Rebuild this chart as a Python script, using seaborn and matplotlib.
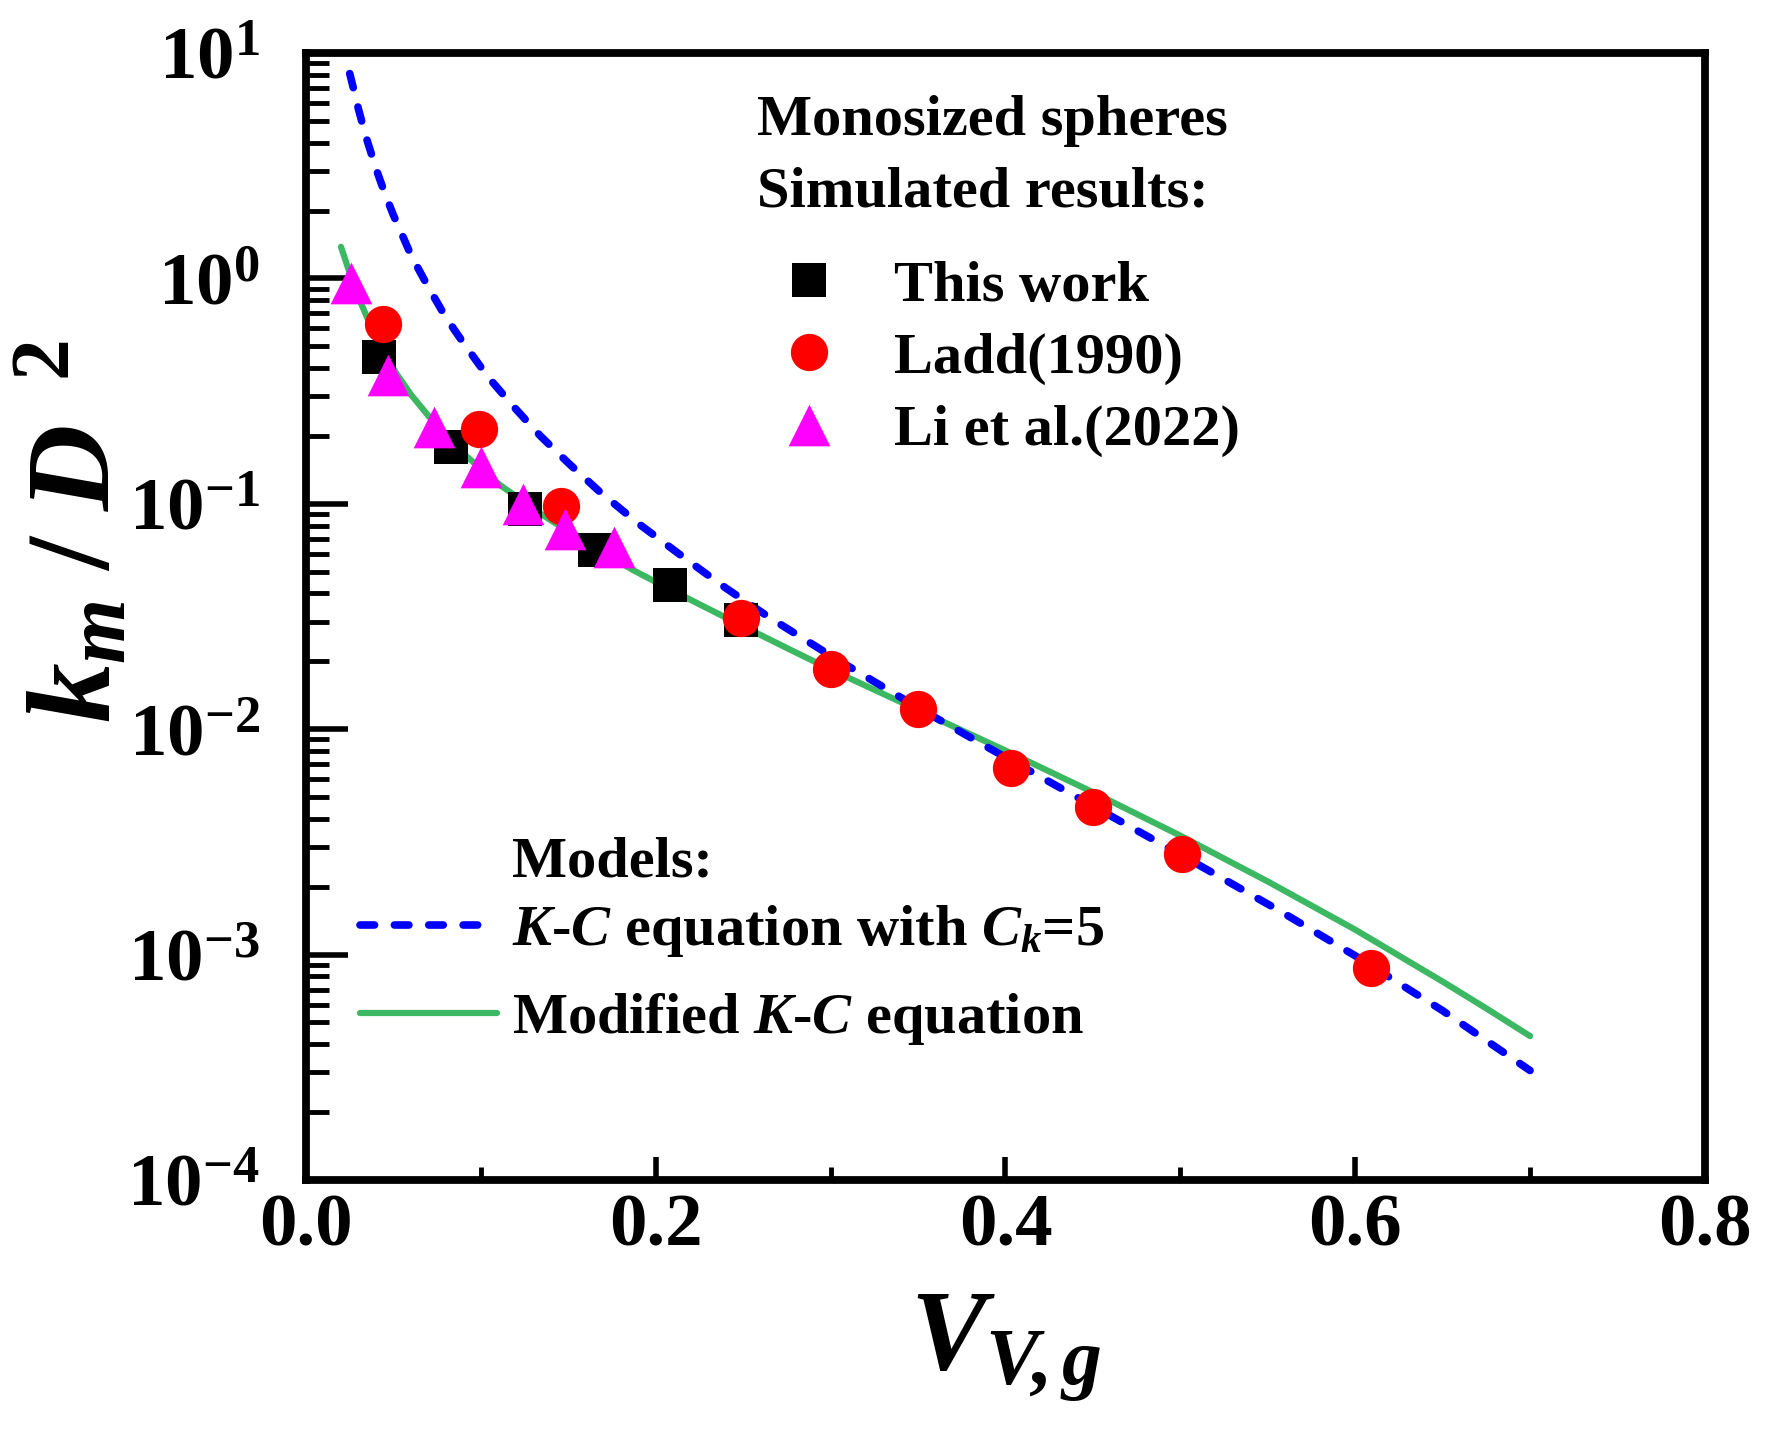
import matplotlib
matplotlib.use("Agg")
import matplotlib.pyplot as plt
from matplotlib.ticker import MultipleLocator, LogLocator, NullFormatter
import seaborn as sns

# values
this_work_x = [0.042, 0.083, 0.125, 0.165, 0.208, 0.249]
this_work_y = [0.450, 0.178, 0.095, 0.0624, 0.0436, 0.0305]

ladd_x = [0.044, 0.099, 0.146, 0.249, 0.300, 0.350, 0.403, 0.450, 0.501, 0.609]
ladd_y = [0.626, 0.215, 0.098, 0.0310, 0.0185, 0.0123, 0.0067, 0.0045, 0.0028, 0.00087]

li_x = [0.026, 0.047, 0.073, 0.100, 0.124, 0.148, 0.176]
li_y = [0.951, 0.372, 0.218, 0.145, 0.0998, 0.0771, 0.0641]

# K-C equation with Ck=5 (dashed blue)
kc_x = [0.025, 0.027, 0.030, 0.033, 0.035, 0.040, 0.045, 0.050, 0.053, 0.060,
        0.065, 0.070, 0.075, 0.080, 0.090, 0.104, 0.112, 0.120, 0.134, 0.150,
        0.168, 0.190, 0.216, 0.240, 0.265, 0.300, 0.350, 0.400, 0.450, 0.500,
        0.557, 0.600, 0.650, 0.700]
kc_y = [8.1, 7.02, 5.63, 4.61, 4.08, 3.07, 2.39, 1.905, 1.69, 1.27,
        1.075, 0.912, 0.782, 0.67, 0.517, 0.366, 0.310, 0.263, 0.200, 0.1516,
        0.113, 0.0818, 0.0578, 0.0423, 0.0313, 0.0212, 0.01245, 0.0075, 0.00456, 0.00278,
        0.00156, 0.000988, 0.000564, 0.000306]

# modified K-C equation (solid green)
mod_x = [0.020, 0.026, 0.031, 0.038, 0.045, 0.052, 0.060, 0.073, 0.088, 0.111,
         0.134, 0.159, 0.187, 0.200, 0.225, 0.250, 0.275, 0.300, 0.350, 0.400,
         0.450, 0.500, 0.550, 0.600, 0.650, 0.675, 0.700]
mod_y = [1.38, 1.00, 0.79, 0.59, 0.46, 0.375, 0.305, 0.230, 0.172, 0.121,
         0.0905, 0.0680, 0.0508, 0.0450, 0.0358, 0.0286, 0.0229, 0.0184, 0.01216, 0.00804,
         0.00525, 0.00337, 0.00211, 0.00129, 0.000759, 0.000577, 0.000435]

sns.set_style("ticks")
plt.rcParams['font.family'] = ['Liberation Serif', 'DejaVu Serif']
plt.rcParams['font.weight'] = 'bold'
plt.rcParams['text.color'] = 'black'
plt.rcParams['axes.labelcolor'] = 'black'
plt.rcParams['xtick.color'] = 'black'
plt.rcParams['ytick.color'] = 'black'
plt.rcParams['mathtext.fontset'] = 'custom'
plt.rcParams['mathtext.rm'] = 'Liberation Serif:bold'
plt.rcParams['mathtext.bf'] = 'Liberation Serif:bold'
plt.rcParams['mathtext.it'] = 'Liberation Serif:italic:bold'

green = '#3cb862'

fig = plt.figure(figsize=(17.73, 14.35), dpi=100)
ax = fig.add_axes([0.1726, 0.1777, 0.789, 0.7854])
ax.set_yscale('log')

sns.lineplot(x=mod_x, y=mod_y, ax=ax, color=green, lw=4.5, zorder=2,
             label='Modified $K$-$C$ equation')
sns.lineplot(x=kc_x, y=kc_y, ax=ax, color='blue', lw=5.5, zorder=2,
             linestyle=(0, (1.9, 2.6)), dash_capstyle='round',
             label='$K$-$C$ equation with $C_k$=5')
sns.scatterplot(x=this_work_x, y=this_work_y, ax=ax, marker='s', s=620,
                color='black', linewidth=0, zorder=3, label='This work')
sns.scatterplot(x=ladd_x, y=ladd_y, ax=ax, marker='o', s=720,
                color='red', linewidth=0, zorder=4, label='Ladd(1990)')
sns.scatterplot(x=li_x, y=li_y, ax=ax, marker='^', s=900,
                color='magenta', linewidth=0, zorder=5, label='Li et al.(2022)')

ax.set_xlim(0, 0.8)
ax.set_ylim(1e-4, 1e1)
ax.xaxis.set_major_locator(MultipleLocator(0.2))
ax.xaxis.set_minor_locator(MultipleLocator(0.1))
ax.yaxis.set_major_locator(LogLocator(base=10, numticks=10))
ax.yaxis.set_minor_locator(LogLocator(base=10, subs=range(2, 10), numticks=20))
ax.yaxis.set_minor_formatter(NullFormatter())

for sp in ax.spines.values():
    sp.set_visible(True)
    sp.set_color('black')
    sp.set_linewidth(5.6)

ax.tick_params(axis='x', which='major', direction='in', length=16.5, width=4,
               labelsize=54, pad=10, colors='black')
ax.tick_params(axis='x', which='minor', direction='in', length=9.5, width=3.5)
ax.tick_params(axis='y', which='major', direction='in', length=30, width=4,
               labelsize=54, pad=33, colors='black')
ax.tick_params(axis='y', which='minor', direction='in', length=16.5, width=3.5)

ax.set_xlabel(r'$V_{V\!,g}$', fontsize=82, labelpad=22)
ax.set_ylabel(r'$k_m\;/\;D^{\;\;2}$', fontsize=86)
ax.yaxis.set_label_coords(-0.123, 0.575)

# headers of the two legend groups
ax.text(0.3224, 0.9272, 'Monosized spheres', transform=ax.transAxes,
        fontsize=42, fontweight='bold', va='baseline', ha='left')
ax.text(0.3224, 0.8634, 'Simulated results:', transform=ax.transAxes,
        fontsize=42, fontweight='bold', va='baseline', ha='left')
ax.text(0.1472, 0.2689, 'Models:', transform=ax.transAxes,
        fontsize=42, fontweight='bold', va='baseline', ha='left')

handles, labels = ax.get_legend_handles_labels()
hmap = dict(zip(labels, handles))
sim_labels = ['This work', 'Ladd(1990)', 'Li et al.(2022)']
mod_labels = ['$K$-$C$ equation with $C_k$=5', 'Modified $K$-$C$ equation']

leg1 = ax.legend([hmap[l] for l in sim_labels], sim_labels,
                 loc='upper left', bbox_to_anchor=(0.3385, 0.8163),
                 frameon=False, borderpad=0, borderaxespad=0,
                 handlelength=1.0, handletextpad=0.97, labelspacing=0.33,
                 scatteryoffsets=[0.5], prop={'size': 42, 'weight': 'bold'})
ax.add_artist(leg1)
leg2 = ax.legend([hmap[l] for l in mod_labels], mod_labels,
                 loc='upper left', bbox_to_anchor=(0.0386, 0.2458),
                 frameon=False, borderpad=0, borderaxespad=0,
                 handlelength=2.35, handletextpad=0.25, labelspacing=0.55,
                 prop={'size': 42, 'weight': 'bold'})

fig.savefig('out.png', dpi=100)
